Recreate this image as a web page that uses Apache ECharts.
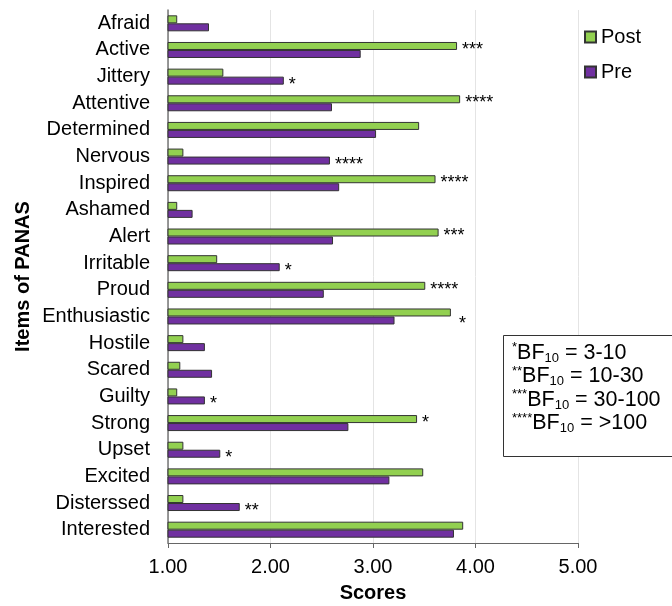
<!DOCTYPE html>
<html>
<head>
<meta charset="utf-8">
<style>html,body{margin:0;padding:0;background:#fff}#c{width:672px;height:606px}</style>
<script src="https://cdn.jsdelivr.net/npm/echarts@6/dist/echarts.min.js"></script>
</head>
<body>
<div id="c"></div>
<script>
const categories = ["Afraid","Active","Jittery","Attentive","Determined","Nervous","Inspired","Ashamed","Alert","Irritable","Proud","Enthusiastic","Hostile","Scared","Guilty","Strong","Upset","Excited","Disterssed","Interested"];
const postValues = [1.09,3.82,1.54,3.85,3.45,1.15,3.61,1.09,3.64,1.48,3.51,3.76,1.15,1.12,1.09,3.43,1.15,3.49,1.15,3.88];
const preValues  = [1.40,2.88,2.13,2.60,3.03,2.58,2.67,1.24,2.61,2.09,2.52,3.21,1.36,1.43,1.36,2.76,1.51,3.16,1.70,3.79];
const postSig = ["","***","","****","","","****","","***","","****","*","","","","*","","","",""];
const preSig  = ["","","*","","","****","","","","*","","","","","*","","*","","**",""];
const xTicks = [1,2,3,4,5];

const FONT = "Liberation Sans, Arial, sans-serif";
const chart = echarts.init(document.getElementById('c'), null, {renderer:'canvas'});

function makeData(vals, sig, lowered) {
  return vals.map((v, i) => {
    const item = {value: v};
    if (sig[i]) {
      item.label = {show: true, formatter: sig[i], offset: lowered[i] ? [3, 12] : [0, 4]};
    }
    return item;
  });
}
const loweredPost = categories.map(c => c === "Enthusiastic");
const noLower = categories.map(() => false);

const starLabel = {show:false, position:'right', distance:5, color:'#000', fontSize:18, fontFamily:FONT};

chart.setOption({
  animation:false,
  textStyle:{fontFamily:FONT},
  grid:{left:168, right:94, top:10, bottom:63, containLabel:false, outerBoundsMode:'none'},
  legend:{
    orient:'vertical', left:579, top:22, itemWidth:11, itemHeight:11, itemGap:15,
    icon:'rect',
    textStyle:{fontSize:20, color:'#000', fontFamily:FONT},
    data:['Post','Pre']
  },
  xAxis:{
    type:'value', min:xTicks[0], max:xTicks[xTicks.length-1], interval:1,
    name:'Scores', nameLocation:'middle', nameGap:40, nameMoveOverlap:false,
    nameTextStyle:{fontSize:20, fontWeight:'bold', color:'#000', fontFamily:FONT},
    axisLine:{show:true, lineStyle:{color:'#666', width:1}},
    axisTick:{show:true, length:5, lineStyle:{color:'#666'}},
    axisLabel:{fontSize:20, color:'#000', margin:14, fontFamily:FONT, formatter:v=>v.toFixed(2)},
    splitLine:{show:true, lineStyle:{color:'#e4e4e4', width:1}}
  },
  yAxis:{
    type:'category', data:categories, inverse:true,
    name:'Items of PANAS', nameLocation:'middle', nameGap:135, nameRotate:90, nameMoveOverlap:false,
    nameTextStyle:{fontSize:20, fontWeight:'bold', color:'#000', fontFamily:FONT},
    axisLine:{show:true, lineStyle:{color:'#777', width:1.5}},
    axisTick:{show:false},
    axisLabel:{fontSize:20, color:'#000', margin:18, fontFamily:FONT}
  },
  series:[
    {name:'Post', type:'bar', barWidth:8, barGap:'0%', data:makeData(postValues, postSig, loweredPost),
     itemStyle:{color:'#92d050', borderColor:'#333', borderWidth:1}, label:starLabel},
    {name:'Pre', type:'bar', barWidth:8, barGap:'0%', data:makeData(preValues, preSig, noLower),
     itemStyle:{color:'#7030a0', borderColor:'#333', borderWidth:1}, label:starLabel}
  ],
  graphic:[
    {type:'rect', shape:{x:503.5, y:335.5, width:200, height:121}, style:{fill:'#fff', stroke:'#333', lineWidth:1}, z:10},
    {type:'text', left:512, top:341, z:11, style:{
      text:[
        '{s|*}{m|BF}{b|10}{m| = 3-10}',
        '{s|**}{m|BF}{b|10}{m| = 10-30}',
        '{s|***}{m|BF}{b|10}{m| = 30-100}',
        '{s|****}{m|BF}{b|10}{m| = >100}'
      ].join('\n'),
      fontFamily:FONT, fill:'#000',
      rich:{
        s:{fontSize:13, lineHeight:23.5, verticalAlign:'top', fontFamily:FONT, fill:'#000'},
        m:{fontSize:21.5, lineHeight:23.5, fontFamily:FONT, fill:'#000'},
        b:{fontSize:13, lineHeight:23.5, verticalAlign:'bottom', fontFamily:FONT, fill:'#000'}
      }
    }}
  ]
});
</script>
</body>
</html>
